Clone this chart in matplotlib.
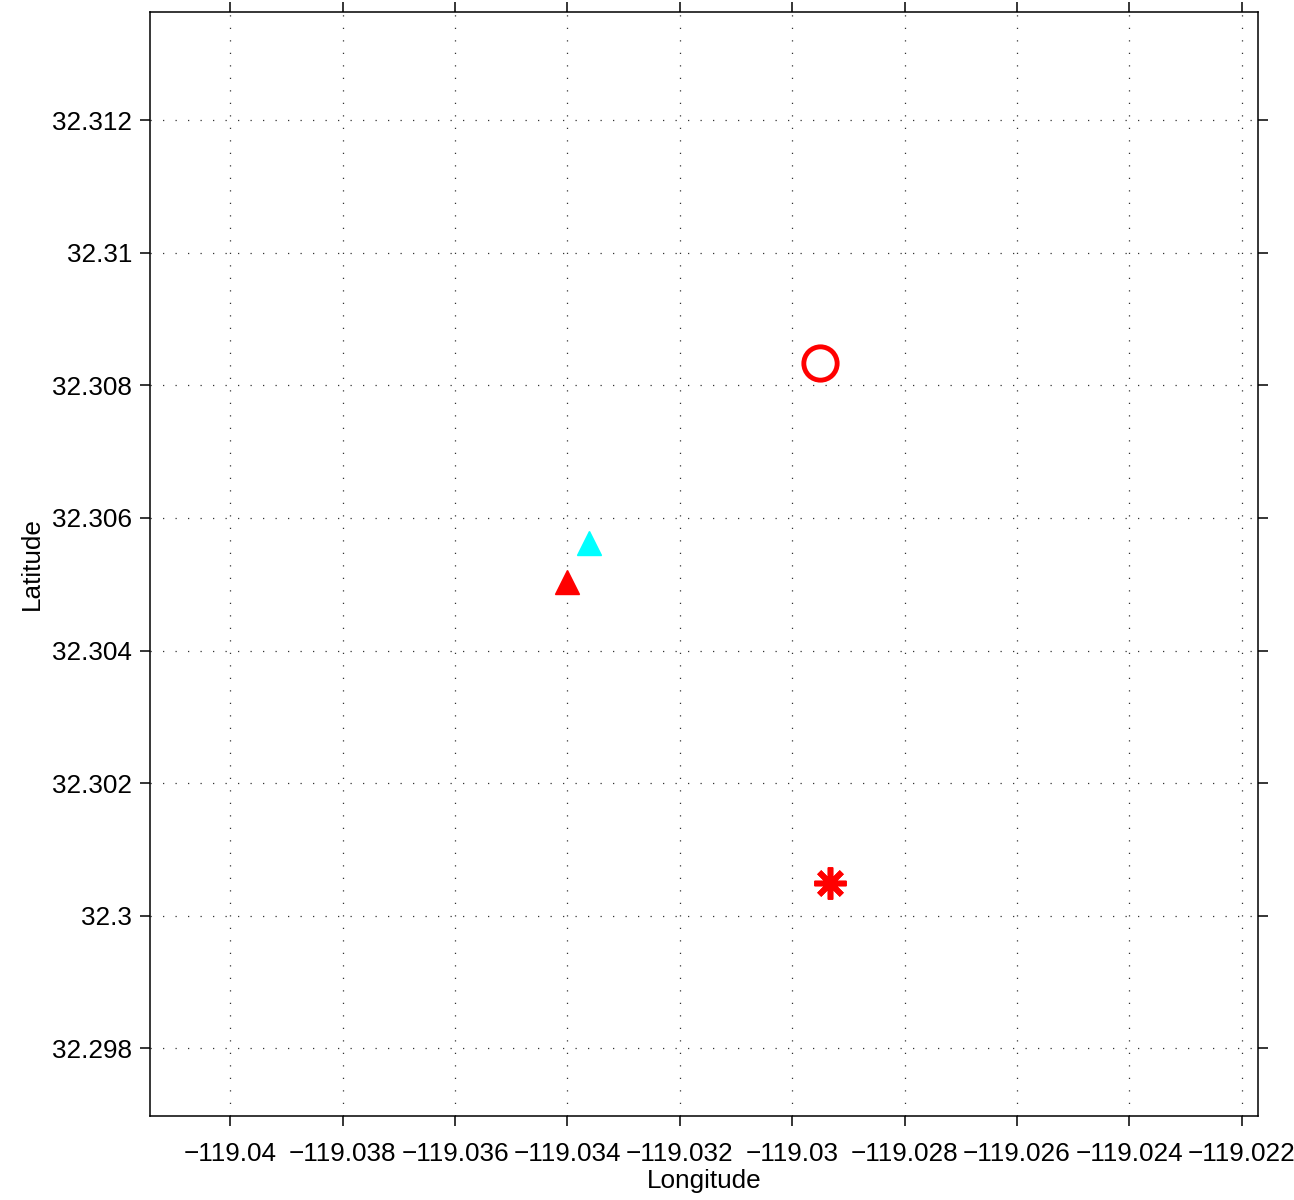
import matplotlib.pyplot as plt
import numpy as np

plt.rcParams['font.family'] = ['Liberation Sans', 'DejaVu Sans']

# positions (lon, lat)
circle_lon, circle_lat = [-119.0295], [32.30833]
star_lon, star_lat = [-119.02932], [32.3005]
cyan_tri_lon, cyan_tri_lat = [-119.03361], [32.30562]
red_tri_lon, red_tri_lat = [-119.0340], [32.30504]

xticks = np.round(np.arange(-119.04, -119.0219, 0.002), 3)
yticks = np.round(np.arange(32.298, 32.3121, 0.002), 3)

fig = plt.figure(figsize=(12.94, 12), dpi=100)
ax = fig.add_axes([0.1159, 0.07, 0.8563, 0.92])

ax.plot(red_tri_lon, red_tri_lat, '^', color='red', ms=17, mec='red', mew=1)
ax.plot(cyan_tri_lon, cyan_tri_lat, '^', color='cyan', ms=17, mec='cyan', mew=1)
ax.plot(circle_lon, circle_lat, 'o', mfc='none', mec='red', ms=24, mew=3.5)
ax.plot(star_lon, star_lat, marker=(8, 2, 0), ls='none', color='red', ms=23, mew=4)

ax.set_xlim(-119.04143, -119.02171)
ax.set_ylim(32.29698, 32.31363)
ax.set_xticks(xticks)
ax.set_yticks(yticks)
ax.set_xticklabels([('%g' % v).replace('-', '\u2212') for v in xticks])
ax.set_yticklabels(['%g' % v for v in yticks])

ax.grid(True, color='#333333', ls=(0, (1, 9)), lw=0.9)
ax.tick_params(direction='out', length=7, width=1.1, labelsize=18.8,
               top=True, right=True)
ax.tick_params(axis='x', pad=12)
ax.tick_params(axis='y', pad=6)
for s in ax.spines.values():
    s.set_linewidth(1.1)

ax.set_xlabel('Longitude', fontsize=18.8, labelpad=2)
ax.set_ylabel('Latitude', fontsize=18.8, labelpad=6)

fig.savefig('out.png', dpi=100)
